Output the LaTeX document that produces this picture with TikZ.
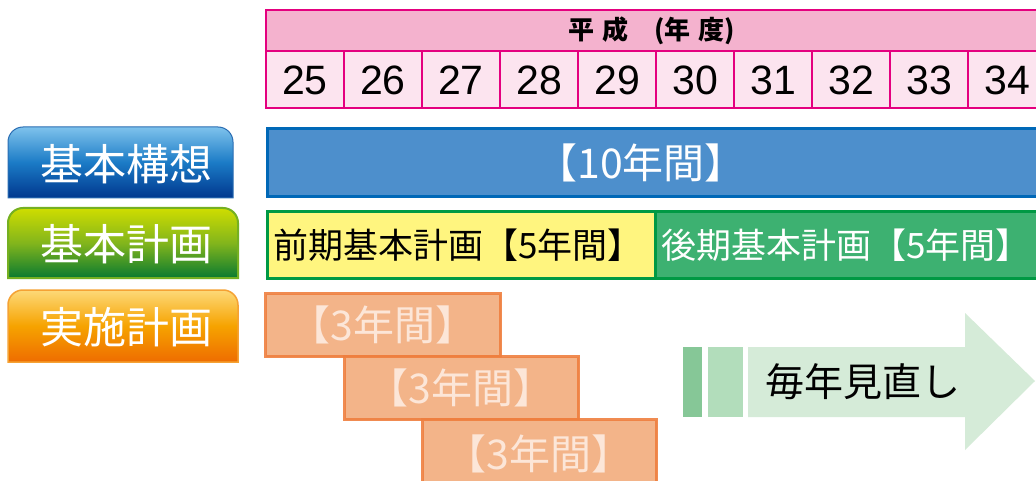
\documentclass[tikz,border=0pt]{standalone}
\usepackage{fontspec}
\setmainfont{Noto Sans CJK JP}
\newfontfamily\numfont{Liberation Sans}
\definecolor{mag}{HTML}{E4007F}
\definecolor{hdrtop}{HTML}{F4B2CE}
\definecolor{hdrbot}{HTML}{FCE4EF}
\definecolor{blueline}{HTML}{0068B7}
\definecolor{bluefill}{HTML}{4D8FCC}
\definecolor{greenline}{HTML}{009944}
\definecolor{yellowfill}{HTML}{FFF57F}
\definecolor{greenfill}{HTML}{3DB171}
\definecolor{orline}{HTML}{EF7F3F}
\definecolor{orfill}{HTML}{F3AE80}
\definecolor{ortext}{HTML}{FCE6D8}
\definecolor{arrA}{HTML}{86C797}
\definecolor{arrB}{HTML}{B2DDBB}
\definecolor{arrC}{HTML}{D5EBD8}
\definecolor{bTop}{HTML}{7EC2EC}
\definecolor{bMid}{HTML}{1B7BC6}
\definecolor{bBot}{HTML}{00378E}
\definecolor{bEdge}{HTML}{2A6DB3}
\definecolor{gTop}{HTML}{CFDD00}
\definecolor{gMid}{HTML}{82B51C}
\definecolor{gBot}{HTML}{0A7A30}
\definecolor{gEdge}{HTML}{75B021}
\definecolor{oTop}{HTML}{FDD978}
\definecolor{oMid}{HTML}{F6A300}
\definecolor{oBot}{HTML}{EE6C00}
\definecolor{oEdge}{HTML}{F5A234}
\tikzset{
  lbltext/.style={text=white, font=\fontsize{43}{43}\selectfont, inner sep=0pt},
  yearnum/.style={font=\numfont\fontsize{41}{41}\selectfont, inner sep=0pt},
  gridcell/.style={fill=hdrbot, draw=mag, line width=1.6pt},
  threebox/.style={fill=orfill, fill opacity=0.92, draw=orline, draw opacity=0.9, line width=3pt},
  threetext/.style={text=ortext, font=\fontsize{41}{41}\selectfont, inner sep=0pt},
}
\begin{document}
\begin{tikzpicture}[x=1pt,y=-1pt]
\useasboundingbox (0,0) rectangle (1036,481);
\clip (0,0) rectangle (1036,481);
\fill[white] (0,0) rectangle (1036,481);

% header
\path[fill=hdrtop, draw=mag, line width=1.6pt] (266,10) rectangle (1060,51);
\node[font=\bfseries\fontsize{26}{26}\selectfont, inner sep=0pt] (hdr) at (652,31) {平\hspace{8pt}成\hspace{26pt}(年\hspace{8pt}度)};
\foreach \i in {0,...,9} {
  \pgfmathtruncatemacro{\yr}{25+\i}
  \path[gridcell] (266+78*\i,51) rectangle ++(78,57);
  \node[yearnum] (y\i) at (305+78*\i,80) {\yr};
}

% left labels
\path[top color=bTop, bottom color=bBot, middle color=bMid, draw=bEdge, line width=1pt]
  (8,198) -- (8,142) .. controls (8,133.7) and (14.7,127) .. (23,127) -- (218,127)
  .. controls (226.3,127) and (233,133.7) .. (233,142) -- (233,198) -- cycle;
\node[lbltext] (kihonkoso) at (126,164) {基本構想};

\path[top color=gTop, bottom color=gBot, middle color=gMid, draw=gEdge, line width=2pt]
  (8,278) -- (8,223) .. controls (8,214.7) and (14.7,208) .. (23,208) -- (223,208)
  .. controls (231.3,208) and (238,214.7) .. (238,223) -- (238,278) -- cycle;
\node[lbltext] (kihonkeikaku) at (126,244) {基本計画};

\path[top color=oTop, bottom color=oBot, middle color=oMid, draw=oEdge, line width=1.5pt]
  (8,362) -- (8,305) .. controls (8,296.7) and (14.7,290) .. (23,290) -- (223,290)
  .. controls (231.3,290) and (238,296.7) .. (238,305) -- (238,362) -- cycle;
\node[lbltext] (jisshi) at (126,327) {実施計画};

% 10-year bar
\path[fill=bluefill, draw=blueline, line width=3pt] (267.5,128.5) rectangle (1060,196.5);
\node[text=white, font=\fontsize{41}{41}\selectfont, inner sep=0pt] (ten) at (641,163) {【10年間】};

% basic plan
\path[fill=greenfill, draw=greenline, line width=3pt] (655,211.5) rectangle (1060,278.5);
\path[fill=yellowfill, draw=greenline, line width=3pt] (267.5,211.5) rectangle (655,278.5);
\node[font=\fontsize{35}{35}\selectfont, inner sep=0pt] (zenki) at (458,245) {前期基本計画【5年間】};
\node[text=white, font=\fontsize{35}{35}\selectfont, inner sep=0pt] (koki) at (846,245) {後期基本計画【5年間】};

% 3-year boxes
\path[threebox] (265.5,293.5) rectangle (500.5,356.5);
\node[threetext] (t1) at (383,325) {【3年間】};
\path[threebox] (344.5,356.5) rectangle (578.5,419.5);
\node[threetext] (t2) at (461,388) {【3年間】};
\path[threebox] (422.5,419.5) rectangle (656.5,490);
\node[threetext] (t3) at (539,454) {【3年間】};

% review arrow
\fill[arrA] (683,347) rectangle (702,417);
\fill[arrB] (708,347) rectangle (743,417);
\fill[arrC] (748,347) -- (965,347) -- (965,313) -- (1035,381) -- (965,450) -- (965,417) -- (748,417) -- cycle;
\node[font=\fontsize{39}{39}\selectfont, inner sep=0pt] (review) at (863,382) {毎年見直し};
\end{tikzpicture}
\end{document}
